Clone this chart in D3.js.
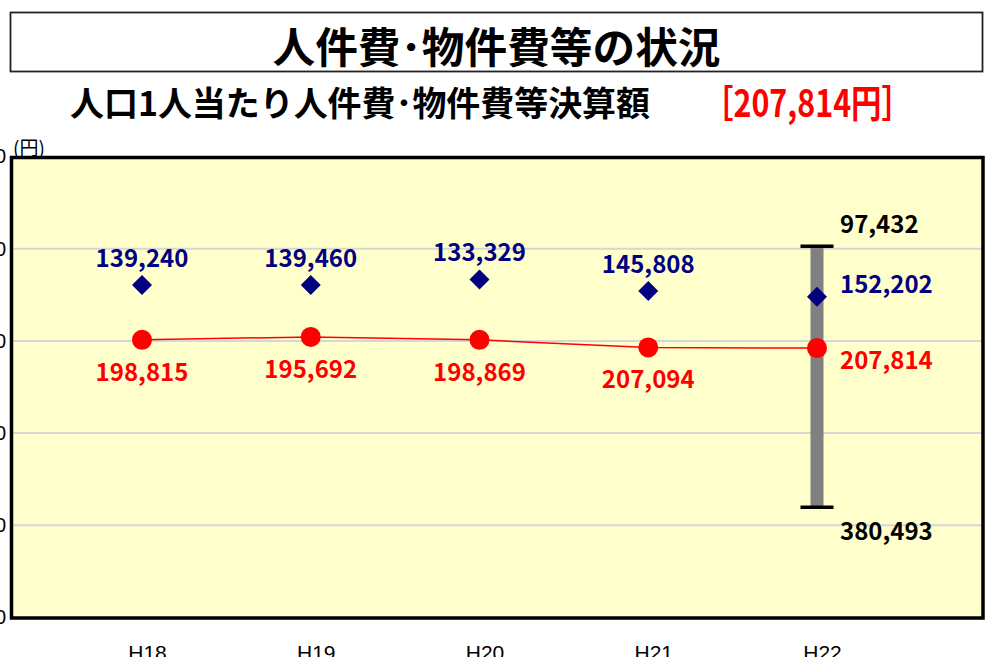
<!DOCTYPE html>
<html><head><meta charset="utf-8">
<script src="https://cdn.jsdelivr.net/npm/d3@7"></script>
<style>
html,body{margin:0;padding:0;background:#fff;overflow:hidden;}
svg{display:block;}
</style></head>
<body>
<svg id="c" width="988" height="657"></svg>
<script>
const titleText = "人件費･物件費等の状況";
const subtitleText = "人口1人当たり人件費･物件費等決算額";
const highlightText = "［207,814円］";
const unitText = "(円)";
const categories = ["H18", "H19", "H20", "H21", "H22"];
const perCapitaValues = [198815, 195692, 198869, 207094, 207814];
const averageValues = [139240, 139460, 133329, 145808, 152202];
const rangeCategory = ["H22"];
const rangeMin = [97432];
const rangeMax = [380493];
const yTicks = [0, 100000, 200000, 300000, 400000, 500000];

const svg = d3.select("#c");
const jp = "'Noto Sans CJK JP','Noto Sans',sans-serif";
const fmt = d3.format(",");

const frame = {l: 11.5, t: 157.5, r: 983, b: 618};
const x = d3.scalePoint().domain(categories).range([142, 817]);
const y = d3.scaleLinear().domain([0, 500000]).range([156.5, 617.5]);

// title box
svg.append("rect").attr("x", 10.5).attr("y", 12.5).attr("width", 972).attr("height", 59)
  .attr("fill", "#fff").attr("stroke", "#222").attr("stroke-width", 1.8);
svg.append("text").attr("x", 496.5).attr("y", 44).attr("text-anchor", "middle")
  .attr("dominant-baseline", "central").attr("font-family", jp).attr("font-weight", "bold")
  .attr("font-size", 42).attr("textLength", 448).attr("lengthAdjust", "spacingAndGlyphs")
  .attr("fill", "#000").text(titleText);
svg.append("text").attr("x", 70).attr("y", 101)
  .attr("dominant-baseline", "central").attr("font-family", jp).attr("font-weight", "bold")
  .attr("font-size", 34).attr("textLength", 580).attr("lengthAdjust", "spacingAndGlyphs")
  .attr("fill", "#000").text(subtitleText);
svg.append("text").attr("x", 703).attr("y", 100)
  .attr("dominant-baseline", "central").attr("font-family", jp).attr("font-weight", "bold")
  .attr("font-size", 38).attr("textLength", 209).attr("lengthAdjust", "spacingAndGlyphs")
  .attr("fill", "#ff0000").text(highlightText);

// plot background
svg.append("rect").attr("x", frame.l).attr("y", frame.t)
  .attr("width", frame.r - frame.l).attr("height", frame.b - frame.t)
  .attr("fill", "#ffffcc");

// gridlines
svg.append("g").selectAll("line").data(yTicks.slice(1, -1)).join("line")
  .attr("x1", frame.l).attr("x2", frame.r)
  .attr("y1", d => y(d)).attr("y2", d => y(d))
  .attr("stroke", "#d6d6d6").attr("stroke-width", 2);

// frame
svg.append("rect").attr("x", frame.l).attr("y", frame.t)
  .attr("width", frame.r - frame.l).attr("height", frame.b - frame.t)
  .attr("fill", "none").attr("stroke", "#000").attr("stroke-width", 3.5);

// y axis (labels mostly off-canvas, as in the reference)
const ya = svg.append("g").attr("transform", `translate(${frame.l - 0.5},0)`)
  .call(d3.axisLeft(y).tickValues(yTicks).tickFormat(fmt).tickSize(0).tickPadding(5));
ya.select(".domain").remove();
ya.selectAll("text").attr("font-family", "'Liberation Sans',Arial,sans-serif")
  .attr("font-size", 20).attr("fill", "#000");

svg.append("text").attr("x", 13).attr("y", 146).attr("dominant-baseline", "central")
  .attr("font-family", jp).attr("font-size", 19).attr("fill", "#000").text(unitText);

// x axis
const xa = svg.append("g").attr("transform", `translate(5,${frame.b})`)
  .call(d3.axisBottom(x).tickSize(0).tickPadding(27));
xa.select(".domain").remove();
xa.selectAll("text").attr("font-family", "'Liberation Sans',Arial,sans-serif")
  .attr("font-size", 21).attr("fill", "#000");

// range bar
const rg = svg.append("g");
rangeCategory.forEach((c, i) => {
  rg.append("line").attr("x1", x(c)).attr("x2", x(c))
    .attr("y1", y(rangeMin[i])).attr("y2", y(rangeMax[i]))
    .attr("stroke", "#808080").attr("stroke-width", 13);
  [rangeMin[i], rangeMax[i]].forEach(v => {
    rg.append("line").attr("x1", x(c) - 16.5).attr("x2", x(c) + 16.5)
      .attr("y1", y(v)).attr("y2", y(v)).attr("stroke", "#000").attr("stroke-width", 3.5);
  });
  rg.append("text").attr("x", x(c) + 23).attr("y", y(rangeMin[i]) - 13)
    .attr("font-family", jp).attr("font-weight", "bold").attr("font-size", 24)
    .attr("fill", "#000").text(fmt(rangeMin[i]));
  rg.append("text").attr("x", x(c) + 23).attr("y", y(rangeMax[i]) + 33)
    .attr("font-family", jp).attr("font-weight", "bold").attr("font-size", 24)
    .attr("fill", "#000").text(fmt(rangeMax[i]));
});

// red line
const pts = categories.map((c, i) => [x(c), y(perCapitaValues[i])]);
svg.append("path").attr("d", d3.line()(pts)).attr("fill", "none")
  .attr("stroke", "#ff0000").attr("stroke-width", 1.5);

// blue diamonds
svg.append("g").selectAll("path").data(categories).join("path")
  .attr("transform", (c, i) => `translate(${x(c)},${y(averageValues[i])}) rotate(45)`)
  .attr("d", d3.symbol(d3.symbolSquare, 200)())
  .attr("fill", "#000080");

// red circles
svg.append("g").selectAll("circle").data(categories).join("circle")
  .attr("cx", c => x(c)).attr("cy", (c, i) => y(perCapitaValues[i])).attr("r", 10)
  .attr("fill", "#ff0000");

const last = categories.length - 1;
// blue labels
svg.append("g").selectAll("text").data(categories).join("text")
  .attr("x", (c, i) => i === last ? x(c) + 23 : x(c))
  .attr("y", (c, i) => i === last ? y(averageValues[i]) - 4 : y(averageValues[i]) - 18)
  .attr("text-anchor", (c, i) => i === last ? "start" : "middle")
  .attr("font-family", jp).attr("font-weight", "bold").attr("font-size", 24)
  .attr("fill", "#000080").text((c, i) => fmt(averageValues[i]));

// red labels
svg.append("g").selectAll("text").data(categories).join("text")
  .attr("x", (c, i) => i === last ? x(c) + 23 : x(c))
  .attr("y", (c, i) => i === last ? y(perCapitaValues[i]) + 21 : y(perCapitaValues[i]) + 41)
  .attr("text-anchor", (c, i) => i === last ? "start" : "middle")
  .attr("font-family", jp).attr("font-weight", "bold").attr("font-size", 24)
  .attr("fill", "#ff0000").text((c, i) => fmt(perCapitaValues[i]));
</script>
</body></html>
